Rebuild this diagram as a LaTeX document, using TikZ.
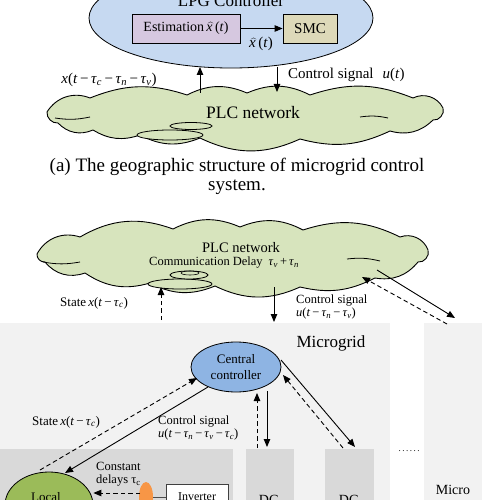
\documentclass[tikz,border=0pt]{standalone}
\usepackage{fontspec}
\setmainfont{Liberation Serif}
\usetikzlibrary{shapes.geometric,arrows.meta}
\definecolor{topblue}{RGB}{198,217,241}
\definecolor{estp}{RGB}{214,200,224}
\definecolor{smck}{RGB}{221,217,185}
\definecolor{cloudg}{RGB}{215,228,189}
\definecolor{ccblue}{RGB}{142,180,227}
\definecolor{locg}{RGB}{155,187,89}
\definecolor{orng}{RGB}{247,150,70}
\definecolor{mgbg}{RGB}{242,242,242}
\definecolor{locbg}{RGB}{217,217,217}
\newcommand\vv[1]{\textit{#1}}
\newcommand\sbs[1]{\textsubscript{\textit{#1}}}
\newcommand\mn{\,−\,}
\newcommand\fs[1]{\fontsize{#1}{#1}\selectfont}
\newcommand\xhat{$\widehat{\mbox{\vv{x}\,}}$}
\begin{document}
\begin{tikzpicture}[x=1pt,y=-1pt,
  arr/.style={-{Triangle[length=8pt,width=6.5pt]},line width=0.9pt},
  darr/.style={arr,dashed,dash pattern=on 4.5pt off 3pt},
  cloudline/.style={draw,fill=cloudg,line width=0.9pt,line join=miter},
  bl/.style={bend left=#1},
  box/.style={draw,line width=0.8pt,inner sep=0pt},
  lab/.style={inner sep=0pt,align=center}]
\useasboundingbox (0,0) rectangle (500,500);
\clip (0,0) rectangle (500,500);
% ---------- part (a)
\node[ellipse,draw,fill=topblue,minimum width=284,minimum height=100,line width=0.8pt] (lpg) at (231,18) {};
\node[lab,anchor=base,font=\fs{17}] (lpgt) at (231,7) {LPG Controller};
\node[box,fill=estp,minimum width=108,minimum height=29,font=\fs{14}] (est) at (186,28.5) {Estimation\,\xhat(\vv{t})};
\node[box,fill=smck,minimum width=54,minimum height=29,font=\fs{15}] (smc) at (310,28.5) {SMC};
\draw[arr] (est) -- (smc);
\node[lab,font=\fs{15}] (xh) at (261,44) {\xhat(\vv{t})};
% cloud 1
\path[cloudline] (47,112) to[bl=40] (90,98) to[bl=20] (187,95) to[bl=25] (247,93) to[bl=25] (310,95)
  to[bl=20] (413,98) to[bl=45] (443,108) to[bl=60] (433,120) to[bl=30] (390,131) to[bl=20] (300,139)
  to[bl=25] (200,138) to[bl=25] (140,135) to[bl=25] (93,130) to[bl=35] (58,123) to[bl=50] (47,112) -- cycle;
\draw[line width=0.8pt] (55,118) to[bend right=10] (90,117);
\draw[line width=0.8pt] (360,117) to[bend left=10] (388,118);
\draw[fill=cloudg,line width=0.8pt] (170,135) ellipse (33 and 5);
\draw[fill=cloudg,line width=0.8pt] (191,126) ellipse (21 and 3.5);
\node[lab,font=\fs{17.5}] (plc1t) at (253,113) {PLC network};
\coordinate (u1a) at (200,93);
\coordinate (u1b) at (200,67);
\draw[arr] (u1a) -- (u1b);
\coordinate (d1a) at (277,67);
\coordinate (d1b) at (277,92);
\draw[arr] (d1a) -- (d1b);
\node[lab,font=\fs{15}] (xl) at (109,80) {\vv{x}(\vv{t}\mn\vv{τ}\sbs{c}\mn\vv{τ}\sbs{n}\mn\vv{τ}\sbs{v})};
\node[lab,font=\fs{15},anchor=west] (cs1) at (288,75) {Control signal\hspace{9pt}\vv{u}(\vv{t})};
\node[lab,font=\fs{19}] (cap1) at (237,167) {(a) The geographic structure of microgrid control};
\node[lab,font=\fs{19}] (cap2) at (237,187) {system.};
% ---------- part (b)
\fill[mgbg] (0,323) rectangle (390,500);
\fill[mgbg] (424,323) rectangle (482,500);
\fill[locbg] (0,449) rectangle (233,500);
\fill[locbg] (246,449) rectangle (294,500);
\fill[locbg] (325,449) rectangle (374,500);
% cloud 2
\path[cloudline] (37,254) to[bl=40] (80,237) to[bl=25] (173,229) to[bl=25] (240,227) to[bl=25] (303,230)
  to[bl=22] (400,237) to[bl=45] (428,250) to[bl=60] (418,262) to[bl=30] (375,278) to[bl=20] (300,287)
  to[bl=25] (215,286) to[bl=25] (150,283) to[bl=25] (85,273) to[bl=35] (45,262) to[bl=50] (37,254) -- cycle;
\draw[line width=0.8pt] (43,262) to[bend right=10] (80,262);
\draw[line width=0.8pt] (347,259) to[bend left=10] (380,261);
\draw[fill=cloudg,line width=0.8pt] (180,284) ellipse (32 and 5);
\draw[fill=cloudg,line width=0.8pt] (189,275) ellipse (19 and 4);
\draw[line width=0.6pt] (190,273) ellipse (9 and 2);
\node[lab,font=\fs{14.5}] (plc2t) at (241,248) {PLC network};
\node[lab,font=\fs{12.5},anchor=west] (cdt) at (149,263) {Communication Delay\hspace{6pt}\vv{τ}\sbs{v}\,+\,\vv{τ}\sbs{n}};
\node[lab,font=\fs{17}] (mgt) at (331,343) {Microgrid};
\node[ellipse,draw,fill=ccblue,minimum width=90,minimum height=50,line width=0.8pt,align=center,inner sep=0pt,font=\fs{13}] (cc) at (236,367) {Central\\[3pt]controller};
\node[ellipse,draw,fill=locg,minimum width=88,minimum height=66,line width=0.8pt] (loc) at (49,505) {};
\node[lab,font=\fs{13}] (loct) at (46,497) {Local};
\node[ellipse,fill=orng,minimum width=14,minimum height=30,inner sep=0pt] (or) at (146,497) {};
\node[draw=black!75,fill=white,minimum width=62,minimum height=30,inner sep=0pt,anchor=north west] (inv) at (166,484) {};
\node[lab,font=\fs{12}] (invt) at (197,497) {Inverter};
\draw[black!70,line width=0.8pt] (or.east) -- (inv.west |- or.east);
\node[lab,font=\fs{14}] (dg1) at (269,500) {DG};
\node[lab,font=\fs{14}] (dg2) at (349,500) {DG};
\node[lab,font=\fs{14}] (mic) at (453,490) {Micro};
\node[lab,font=\fs{9}] (dots) at (409,451) {.\,.\,.\,.\,.\,.};
% texts
\node[lab,font=\fs{13},anchor=west] (st1) at (60,303) {State\,\vv{x}(\vv{t}\mn\vv{τ}\sbs{c})};
\node[lab,font=\fs{12.5},anchor=west,align=left] (cs2) at (296,307) {Control signal\\[1pt]\vv{u}(\vv{t}\mn\vv{τ}\sbs{n}\mn\vv{τ}\sbs{v})};
\node[lab,font=\fs{13},anchor=west] (st2) at (32,422) {State\,\vv{x}(\vv{t}\mn\vv{τ}\sbs{c})};
\node[lab,font=\fs{12.5},anchor=west,align=left] (cs3) at (158,428) {Control signal\\[1pt]\vv{u}(\vv{t}\mn\vv{τ}\sbs{n}\mn\vv{τ}\sbs{v}\mn\vv{τ}\sbs{c})};
\node[lab,font=\fs{12.5},anchor=west,align=left] (cd) at (96,474) {Constant\\[1pt]delays τ\textsubscript{c}};
% arrows part (b)
\coordinate (p1) at (161,320); \coordinate (p2) at (161,287);
\draw[darr] (p1) -- (p2);
\coordinate (p3) at (274,287); \coordinate (p4) at (274,322);
\draw[arr] (p3) -- (p4);
\coordinate (p5) at (377,270); \coordinate (p6) at (455,318);
\draw[arr] (p5) -- (p6);
\coordinate (p7) at (447,324); \coordinate (p8) at (362,277);
\draw[darr] (p7) -- (p8);
\coordinate (q1) at (40,470); \coordinate (q2) at (197,378);
\draw[darr] (q1) -- (q2);
\coordinate (q3) at (208,387); \coordinate (q4) at (65,473);
\draw[arr] (q3) -- (q4);
\coordinate (q5) at (257,448); \coordinate (q6) at (257,393);
\draw[darr] (q5) -- (q6);
\coordinate (q7) at (267,391); \coordinate (q8) at (267,447);
\draw[arr] (q7) -- (q8);
\coordinate (q9) at (343,448); \coordinate (q10) at (283,375);
\draw[darr] (q9) -- (q10);
\coordinate (q11) at (281,360); \coordinate (q12) at (355,447);
\draw[arr] (q11) -- (q12);
\coordinate (o1) at (140,493);
\draw[darr] (o1) -- (loc.east |- o1);
\end{tikzpicture}
\end{document}
